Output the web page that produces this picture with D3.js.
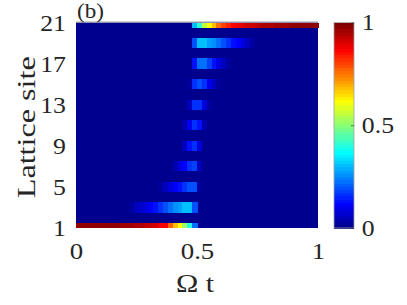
<!DOCTYPE html>
<html>
<head>
  <style>
    body { margin: 0; background: #fff; }
  </style>
</head>
<body>
  <svg id="chart"></svg>

  <script src="https://d3js.org/d3.v7.min.js"></script>
  <script>
    // lattice sites (rows) and ticks
    const sites = [1, 2, 3, 4, 5, 6, 7, 8, 9, 10, 11, 12, 13, 14, 15, 16, 17, 18, 19, 20, 21];
    const siteTicks = [1, 5, 9, 13, 17, 21];
    const timeTicks = [0, 0.5, 1];
    const colorTicks = [0, 0.5, 1];

    // occupation per site, 50 time bins of width 0.02 (even sites stay empty)
    const site1 = [0.98,0.98,0.98,0.98,0.98,0.97,0.97,0.97,0.97,0.96,
                   0.96,0.96,0.95,0.94,0.93,0.92,0.91,0.89,0.86,0.78,
                   0.68,0.62,0.52,0.40,0.22,0,0,0,0,0,
                   0,0,0,0,0,0,0,0,0,0,
                   0,0,0,0,0,0,0,0,0,0];
    const site3 = [0,0,0,0,0,0,0,0,0,0,
                   0,0.03,0.05,0.07,0.09,0.11,0.13,0.16,0.19,0.23,
                   0.26,0.28,0.30,0.30,0.20,0,0,0,0,0,
                   0,0,0,0,0,0,0,0,0,0,
                   0,0,0,0,0,0,0,0,0,0];
    const site5 = [0,0,0,0,0,0,0,0,0,0,
                   0,0,0,0,0,0,0,0.03,0.06,0.09,
                   0.12,0.14,0.16,0.20,0.19,0.03,0,0,0,0,
                   0,0,0,0,0,0,0,0,0,0,
                   0,0,0,0,0,0,0,0,0,0];
    const site7 = [0,0,0,0,0,0,0,0,0,0,
                   0,0,0,0,0,0,0,0,0,0,
                   0.04,0.08,0.12,0.17,0.18,0.05,0,0,0,0,
                   0,0,0,0,0,0,0,0,0,0,
                   0,0,0,0,0,0,0,0,0,0];
    const site9 = [0,0,0,0,0,0,0,0,0,0,
                   0,0,0,0,0,0,0,0,0,0,
                   0,0,0.06,0.14,0.17,0.08,0,0,0,0,
                   0,0,0,0,0,0,0,0,0,0,
                   0,0,0,0,0,0,0,0,0,0];
    const site11 = [0,0,0,0,0,0,0,0,0,0,
                    0,0,0,0,0,0,0,0,0,0,
                    0,0,0.04,0.10,0.17,0.14,0.04,0,0,0,
                    0,0,0,0,0,0,0,0,0,0,
                    0,0,0,0,0,0,0,0,0,0];
    const site13 = [0,0,0,0,0,0,0,0,0,0,
                    0,0,0,0,0,0,0,0,0,0,
                    0,0,0,0.06,0.17,0.17,0.08,0.03,0,0,
                    0,0,0,0,0,0,0,0,0,0,
                    0,0,0,0,0,0,0,0,0,0];
    const site15 = [0,0,0,0,0,0,0,0,0,0,
                    0,0,0,0,0,0,0,0,0,0,
                    0,0,0,0.03,0.16,0.20,0.17,0.10,0.05,0.02,
                    0,0,0,0,0,0,0,0,0,0,
                    0,0,0,0,0,0,0,0,0,0];
    const site17 = [0,0,0,0,0,0,0,0,0,0,
                    0,0,0,0,0,0,0,0,0,0,
                    0,0,0,0,0.14,0.22,0.22,0.18,0.13,0.09,
                    0.06,0.03,0,0,0,0,0,0,0,0,
                    0,0,0,0,0,0,0,0,0,0];
    const site19 = [0,0,0,0,0,0,0,0,0,0,
                    0,0,0,0,0,0,0,0,0,0,
                    0,0,0,0,0.20,0.30,0.30,0.28,0.26,0.23,
                    0.20,0.17,0.14,0.11,0.08,0.05,0.03,0.01,0,0,
                    0,0,0,0,0,0,0,0,0,0];
    const site21 = [0,0,0,0,0,0,0,0,0,0,
                    0,0,0,0,0,0,0,0,0,0,
                    0,0,0,0,0.30,0.42,0.55,0.62,0.68,0.75,
                    0.80,0.84,0.87,0.89,0.90,0.91,0.92,0.93,0.94,0.95,
                    0.95,0.96,0.96,0.96,0.97,0.97,0.97,0.97,0.98,0.98];

    const rows = new Map([[1, site1], [3, site3], [5, site5], [7, site7], [9, site9], [11, site11],
                          [13, site13], [15, site15], [17, site17], [19, site19], [21, site21]]);
    const nBins = site1.length;
    const dt = 1 / nBins;

    const serif = '"Liberation Serif", "Times New Roman"';

    // matlab jet(64)
    function jetMap(m) {
      const n = m / 4;
      const u = [];
      for (let i = 1; i <= n; i++) u.push(i / n);
      for (let i = 1; i < n; i++) u.push(1);
      for (let i = n; i >= 1; i--) u.push(i / n);
      const cmap = d3.range(m).map(() => [0, 0, 0]);
      u.forEach((val, j) => {
        const g = n / 2 + j;
        if (g < m) cmap[g][1] = val;
        if (g + n < m) cmap[g + n][0] = val;
        if (g - n >= 0) cmap[g - n][2] = val;
      });
      return cmap.map(c => d3.rgb(c[0] * 255, c[1] * 255, c[2] * 255).formatHex());
    }
    const jet = jetMap(64);
    const color = v => jet[Math.max(0, Math.min(63, Math.floor(v * 64)))];

    const width = 407, height = 305;
    const svg = d3.select('#chart').attr('width', width).attr('height', height);

    const x = d3.scaleLinear().domain([0, 1]).range([76, 318]);
    const y = d3.scaleLinear().domain([1, 21]).range([228, 22.5]);

    // heat map cells
    const cells = [];
    sites.forEach(s => {
      const row = rows.get(s);
      for (let i = 0; i < nBins; i++) {
        cells.push({ site: s, t0: i * dt, t1: (i + 1) * dt, v: row ? row[i] : 0 });
      }
    });

    // dark background under the cells so no seams show
    svg.append('rect')
      .attr('x', x(0)).attr('y', y(21))
      .attr('width', x(1) - x(0)).attr('height', y(1) - y(21))
      .attr('fill', color(0));

    svg.append('g')
      .attr('shape-rendering', 'crispEdges')
      .selectAll('rect')
      .data(cells.filter(d => d.v > 0))
      .join('rect')
      .attr('x', d => x(d.t0))
      .attr('width', d => x(d.t1) - x(d.t0) + 0.5)
      .attr('y', d => y(Math.min(21, d.site + 0.5)))
      .attr('height', d => y(Math.max(1, d.site - 0.5)) - y(Math.min(21, d.site + 0.5)))
      .attr('fill', d => color(d.v));

    // top frame line
    svg.append('line')
      .attr('x1', x(0)).attr('x2', x(1))
      .attr('y1', y(21) - 0.5).attr('y2', y(21) - 0.5)
      .attr('stroke', '#a0a0a0').attr('stroke-width', 1);

    // axes
    const yAxis = svg.append('g')
      .attr('transform', `translate(${x(0)},0)`)
      .call(d3.axisLeft(y).tickValues(siteTicks).tickFormat(d3.format('d')).tickSize(0).tickPadding(9));
    yAxis.select('.domain').remove();
    yAxis.selectAll('text').style('font-size', '23px').style('fill', '#262626')
      .style('font-family', serif).attr('dy', '0.33em').attr('transform', 'scale(1.12,1)');

    const xAxis = svg.append('g')
      .attr('transform', `translate(0,${y(1)})`)
      .call(d3.axisBottom(x).tickValues(timeTicks).tickFormat(d3.format('')).tickSize(0).tickPadding(14));
    xAxis.select('.domain').remove();
    xAxis.selectAll('text').style('font-size', '24px').style('fill', '#262626')
      .style('font-family', serif).attr('transform', 'scale(1.12,1)');

    // colorbar
    const cy = d3.scaleLinear().domain([0, 1]).range([228, 22.5]);
    const cbX = 334, cbW = 20;
    svg.append('g')
      .attr('shape-rendering', 'crispEdges')
      .selectAll('rect')
      .data(jet)
      .join('rect')
      .attr('x', cbX)
      .attr('width', cbW)
      .attr('y', (c, k) => cy((k + 1) / 64))
      .attr('height', (c, k) => cy(k / 64) - cy((k + 1) / 64) + 0.5)
      .attr('fill', c => c);
    svg.append('rect')
      .attr('x', cbX).attr('y', cy(1)).attr('width', cbW).attr('height', cy(0) - cy(1))
      .attr('fill', 'none').attr('stroke', '#a0a0a0').attr('stroke-width', 0.8);

    const cAxis = svg.append('g')
      .attr('transform', `translate(${cbX + cbW},0)`)
      .call(d3.axisRight(cy).tickValues(colorTicks).tickFormat(d3.format('')).tickSize(0).tickPadding(7));
    cAxis.select('.domain').remove();
    cAxis.selectAll('text').style('font-size', '23px').style('fill', '#262626')
      .style('font-family', serif).attr('transform', 'scale(1.12,1)');
    cAxis.selectAll('.tick').append('line')
      .attr('x1', -3).attr('x2', 0).attr('stroke', '#262626').attr('stroke-width', 0.6);

    // labels
    svg.append('text')
      .attr('transform', `translate(35,${(y(1) + y(21)) / 2 + 2}) rotate(-90)`)
      .attr('text-anchor', 'middle')
      .style('font-family', serif).style('font-size', '26px').style('fill', '#262626')
      .attr('textLength', 142)
      .attr('lengthAdjust', 'spacingAndGlyphs')
      .text('Lattice site');

    svg.append('text')
      .attr('transform', `translate(${(x(0) + x(1)) / 2 - 2},292) scale(1.2,1)`)
      .attr('text-anchor', 'middle')
      .style('font-family', serif).style('font-size', '25px').style('fill', '#262626')
      .text('Ω t');

    svg.append('text')
      .attr('transform', 'translate(77,18) scale(1.1,1)')
      .style('font-family', serif).style('font-size', '21px').style('fill', '#262626')
      .text('(b)');
  </script>
</body>
</html>
